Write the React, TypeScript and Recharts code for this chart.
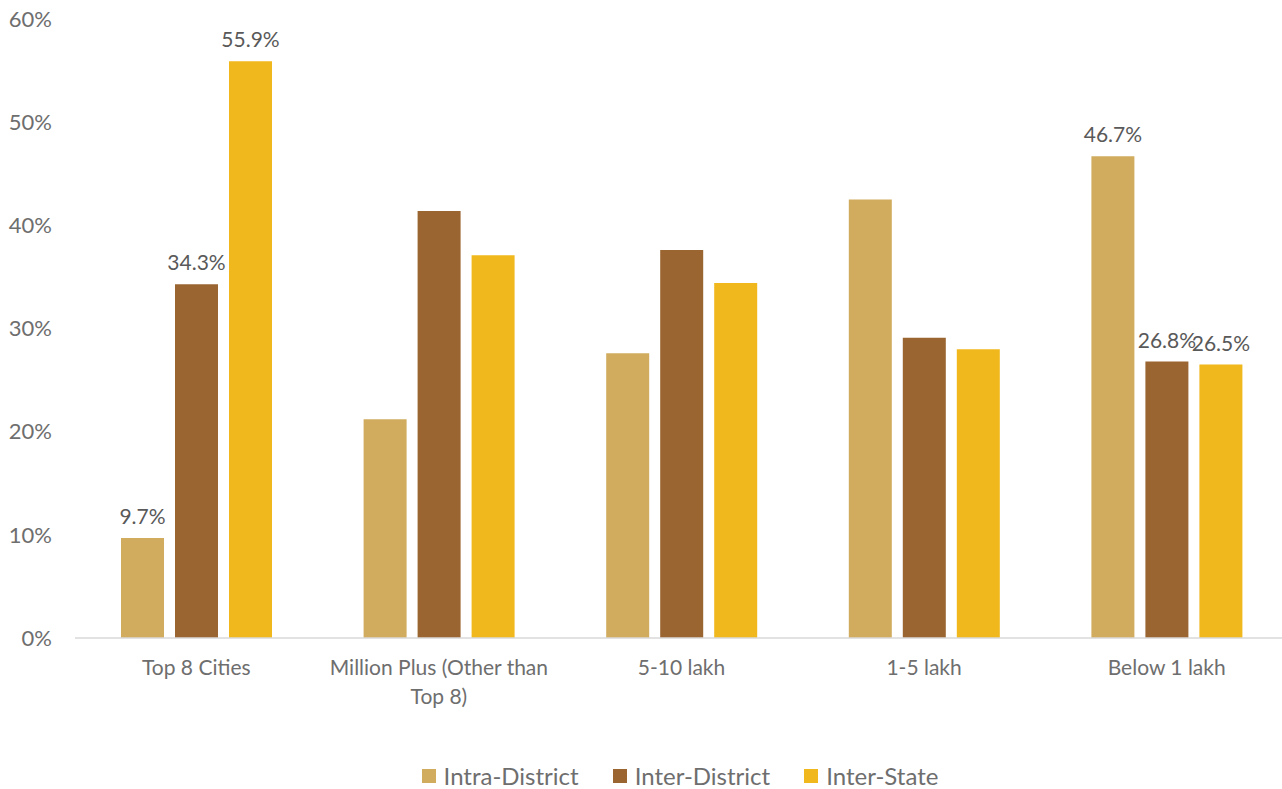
import React from "react";
import {
  BarChart,
  Bar,
  XAxis,
  YAxis,
  Legend,
  LabelList,
} from "recharts";

const categories = [
  "Top 8 Cities",
  "Million Plus (Other than\nTop 8)",
  "5-10 lakh",
  "1-5 lakh",
  "Below 1 lakh",
];
const intraDistrict = [9.7, 21.2, 27.6, 42.5, 46.7];
const interDistrict = [34.3, 41.4, 37.6, 29.1, 26.8];
const interState = [55.9, 37.1, 34.4, 28.0, 26.5];
const yTicks = [0, 10, 20, 30, 40, 50, 60];
const labelledCategories = ["Top 8 Cities", "Below 1 lakh"];

const series = [
  { key: "intra", name: "Intra-District", color: "#D1AC5E" },
  { key: "inter", name: "Inter-District", color: "#9A6530" },
  { key: "state", name: "Inter-State", color: "#F0B81C" },
];

const data = categories.map((name, i) => ({
  name,
  intra: intraDistrict[i],
  inter: interDistrict[i],
  state: interState[i],
}));

const FONT = "Lato, 'Open Sans', sans-serif";
const TEXT = "#6e6e6e";

function CategoryTick({ x, y, payload }: any) {
  const lines = String(payload.value).split("\n");
  return (
    <text x={x} y={y} textAnchor="middle" fill={TEXT} fontSize={21} fontFamily={FONT}>
      {lines.map((ln, i) => (
        <tspan key={i} x={x} dy={29}>
          {ln}
        </tspan>
      ))}
    </text>
  );
}

function ValueLabel(props: any) {
  const { x, y, width, value, index } = props;
  if (!labelledCategories.includes(categories[index])) return null;
  return (
    <text
      x={x + width / 2}
      y={y - 14}
      textAnchor="middle"
      fill="#595959"
      fontSize={21}
      fontFamily={FONT}
    >
      {`${Number(value).toFixed(1)}%`}
    </text>
  );
}

function LegendBox() {
  return (
    <div
      style={{
        display: "flex",
        justifyContent: "center",
        marginTop: 12,
        paddingLeft: 72,
        fontSize: 24,
        color: TEXT,
        fontFamily: FONT,
      }}
    >
      {series.map((s) => (
        <div key={s.key} style={{ display: "flex", alignItems: "center", margin: "0 17px" }}>
          <span
            style={{ width: 14, height: 14, background: s.color, display: "inline-block", marginRight: 8 }}
          />
          <span>{s.name}</span>
        </div>
      ))}
    </div>
  );
}

export default function App() {
  return (
    <div style={{ position: "absolute", left: 0, top: 0, fontFamily: FONT }}>
      <BarChart
        width={1282}
        height={789}
        data={data}
        margin={{ top: 19, right: -6, bottom: 0, left: 0 }}
        barCategoryGap={46}
        barGap={11}
      >
        <XAxis
          dataKey="name"
          tickLine={false}
          axisLine={{ stroke: "#d9d9d9", strokeWidth: 1.5 }}
          tick={<CategoryTick />}
          interval={0}
          height={111}
        />
        <YAxis
          domain={[0, 60]}
          ticks={yTicks}
          tickFormatter={(v: number) => `${v}%`}
          axisLine={false}
          tickLine={false}
          width={75}
          tickMargin={17}
          tick={{ fontSize: 22, fill: TEXT, fontFamily: FONT }}
        />
        <Legend verticalAlign="bottom" wrapperStyle={{ height: 40 }} content={<LegendBox />} />
        {series.map((s) => (
          <Bar key={s.key} dataKey={s.key} name={s.name} fill={s.color} isAnimationActive={false}>
            <LabelList dataKey={s.key} content={<ValueLabel />} />
          </Bar>
        ))}
      </BarChart>
    </div>
  );
}
